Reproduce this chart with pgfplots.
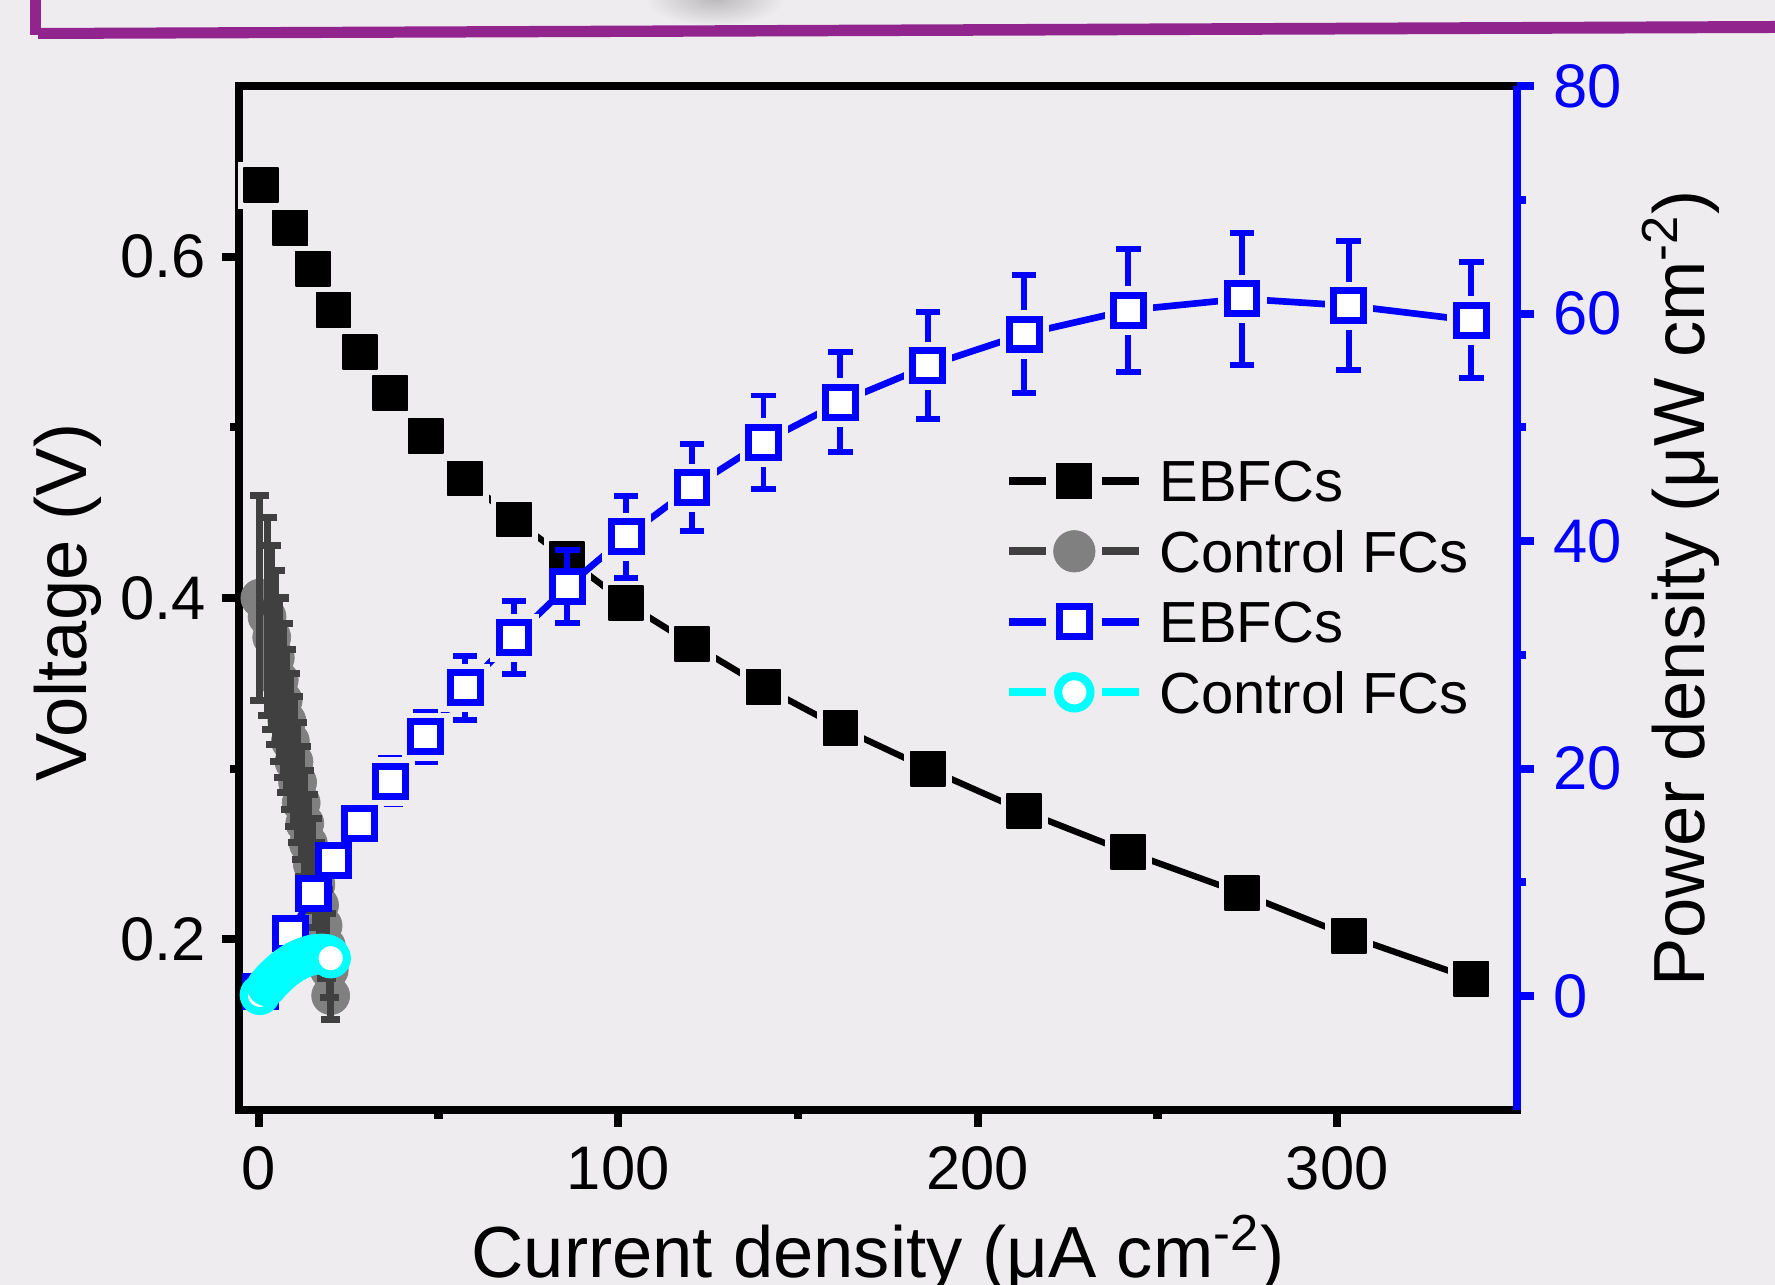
\documentclass[border=0pt]{standalone}
\usepackage{fontspec}
\setmainfont{Liberation Sans}
\usepackage{pgfplots}
\usepackage{pgfplotstable}
\pgfplotsset{compat=1.18}
\definecolor{bg}{RGB}{238,236,239}
\definecolor{frame}{RGB}{146,36,142}
\definecolor{dgray}{RGB}{64,64,64}
\definecolor{mgray}{RGB}{128,128,128}
\definecolor{cy}{RGB}{0,255,255}

\pgfplotstableread{
x V
0.6 0.642
8.8 0.617
15.1 0.593
20.8 0.569
28.1 0.544
36.6 0.520
46.4 0.495
57.4 0.470
71.0 0.446
85.8 0.423
102.2 0.397
120.5 0.373
140.4 0.348
161.8 0.324
186.1 0.300
212.9 0.275
241.9 0.251
273.5 0.227
303.2 0.202
337.3 0.177
}\ebfcV

\pgfplotstableread{
x P e
0.6 0.4 0.1
8.8 5.5 0.6
15.1 9.0 0.8
20.8 11.9 1.0
28.1 15.2 1.2
36.6 18.9 2.0
46.4 22.8 2.2
57.4 27.1 2.8
71.0 31.5 3.2
85.8 36.0 3.2
102.2 40.4 3.6
120.5 44.7 3.8
140.4 48.7 4.1
161.8 52.2 4.4
186.1 55.4 4.7
212.9 58.2 5.2
241.9 60.3 5.4
273.5 61.3 5.8
303.2 60.7 5.7
337.3 59.4 5.1
}\ebfcP

\pgfplotstableread{
x P
28.1 15.2
36.6 18.9
46.4 22.8
57.4 27.1
71.0 31.5
102.2 40.4
120.5 44.7
140.4 48.7
161.8 52.2
186.1 55.4
212.9 58.2
241.9 60.3
273.5 61.3
303.2 60.7
337.3 59.4
}\ebfcPhalo

\pgfplotstableread{
x V e
0.3 0.400 0.060
2.3 0.389 0.058
3.6 0.377 0.054
4.6 0.365 0.051
5.7 0.352 0.048
6.8 0.340 0.045
7.8 0.328 0.042
8.8 0.316 0.040
9.8 0.304 0.038
10.8 0.292 0.035
11.8 0.280 0.033
12.8 0.268 0.031
13.8 0.256 0.029
14.9 0.244 0.027
15.9 0.232 0.025
16.9 0.220 0.023
17.9 0.208 0.021
18.8 0.196 0.019
19.6 0.182 0.016
20.0 0.167 0.014
}\ctrlV

\pgfplotstableread{
x P
0.3 0.12
2.3 0.89
3.6 1.36
4.6 1.68
5.7 2.01
6.8 2.31
7.8 2.56
8.8 2.78
9.8 2.98
10.8 3.15
11.8 3.30
12.8 3.43
13.8 3.53
14.9 3.64
15.9 3.69
16.9 3.72
17.9 3.72
18.8 3.68
19.6 3.57
20.0 3.34
}\ctrlP

\pgfplotsset{
  geom/.style={at={(23.9mm,17.5mm)}, anchor=south west, scale only axis,
    width=127.8mm, height=102.4mm, xmin=-5.5, xmax=350,
    tick align=outside, major tick length=1.7mm, minor tick length=0.9mm,
    /pgf/number format/assume math mode=true,
    ticklabel style={font=\fontsize{17.5}{21}\selectfont},
    label style={font=\fontsize{20.6}{24}\selectfont}},
}

\begin{document}
\begin{tikzpicture}
\useasboundingbox (0,0) rectangle (177.5mm,128.5mm);
\clip (0,0) rectangle (177.5mm,128.5mm);
\fill[bg] (0,0) rectangle (177.5mm,128.5mm);
\shade[inner color=black!22!bg, outer color=bg] (71.5mm,128.7mm) ellipse (7mm and 2.8mm);
\fill[frame] (3.0mm,128.6mm) rectangle (4.1mm,125.0mm);
\fill[frame] (3.8mm,125.7mm) -- (177.6mm,126.4mm) -- (177.6mm,125.2mm) -- (3.8mm,124.6mm) -- cycle;

\begin{axis}[geom,
  ymin=0.1, ymax=0.7,
  axis line style={line width=2.3pt, black},
  xtick={0,100,200,300}, minor xtick={50,150,250},
  ytick={0.2,0.4,0.6}, minor ytick={0.3,0.5},
  xtick pos=bottom, ytick pos=left,
  tick style={line width=2.3pt, black},
  yticklabel style={xshift=-0.4mm, /pgf/number format/.cd, fixed, fixed zerofill, precision=1},
  xticklabel style={yshift=-0.7mm},
  xlabel={Current density (μA cm\textsuperscript{-2})},
  xlabel style={at={(axis description cs:0.5,-0.1631)}, anchor=base},
  ylabel={Voltage (V)},
  ylabel style={at={(axis description cs:-0.1338,0.4953)}, anchor=center},
]
\addplot[black, line width=1.8pt, mark=square*, mark size=6.6pt, mark options={draw=bg, fill=bg, line width=0.1pt}] table[x=x,y=V]{\ebfcV};
\addplot[only marks, mark=square*, mark size=4.85pt, mark options={draw=black, fill=black, line width=0.5pt, line join=round}] table[x=x,y=V]{\ebfcV};
\addplot[only marks, mark=*, mark size=5.4pt, mark options={draw=mgray, fill=mgray, line width=0.2pt}] table[x=x,y=V]{\ctrlV};
\end{axis}

\begin{axis}[geom, ymin=0.1, ymax=0.7, hide axis]
\addplot[dgray, line width=1.5pt, mark=none, error bars/.cd, y dir=both, y explicit,
  error bar style={dgray, line width=2pt},
  error mark options={rotate=90, dgray, line width=2pt, mark size=2.7pt}] table[x=x,y=V,y error=e]{\ctrlV};
\end{axis}

\begin{axis}[geom,
  ymin=-10, ymax=80,
  axis x line=none, axis y line*=right,
  y axis line style={blue, line width=2.3pt, -},
  ytick={0,20,40,60,80}, minor ytick={10,30,50,70},
  tick style={line width=2.3pt, blue},
  yticklabel style={blue, xshift=0.7mm},
  ylabel={Power density (μW cm\textsuperscript{-2})},
  ylabel style={at={(axis description cs:1.1283,0.5092)}, anchor=center, black},
  legend image code/.code={
    \draw[#1, mark=none, line width=2.3pt] (0mm,0mm) -- (3.7mm,0mm);
    \draw[#1, mark=none, line width=2.3pt] (9.3mm,0mm) -- (13mm,0mm);
    \draw[#1, only marks] plot coordinates {(6.5mm,0mm)};
  },
  legend cell align=left,
  legend style={at={(axis description cs:0.5996,0.6489)}, anchor=north west,
    draw=none, fill=none, inner sep=0pt, outer sep=0pt, row sep=0pt,
    font=\fontsize{16.5}{19.8}\selectfont,
    nodes={inner sep=0pt, text height=5.6mm, text depth=1.45mm},
    /tikz/every odd column/.append style={column sep=1.6mm}},
]
\addlegendimage{black, mark=square*, mark size=4.85pt, mark options={draw=black, fill=black, line width=0.5pt}}
\addlegendentry{EBFCs}
\addlegendimage{dgray, mark=*, mark size=5.9pt, mark options={draw=mgray, fill=mgray, line width=0.2pt}}
\addlegendentry{Control FCs}
\addlegendimage{blue, mark=square*, mark size=4.25pt, mark options={draw=blue, fill=white, line width=2pt}}
\addlegendentry{EBFCs}
\addlegendimage{cy, mark=*, mark size=4.6pt, mark options={draw=cy, fill=white, line width=2.3pt}}
\addlegendentry{Control FCs}

\addplot[blue, line width=1.9pt, mark=none, forget plot] table[x=x,y=P]{\ebfcP};
\addplot[only marks, mark=square*, mark size=6.75pt, mark options={draw=bg, fill=bg, line width=0.1pt}, forget plot] table[x=x,y=P]{\ebfcPhalo};
\addplot[blue, forget plot, line width=1.7pt, only marks, mark=square*, mark size=4.25pt, mark options={draw=blue, fill=white, line width=2pt},
  error bars/.cd, y dir=both, y explicit,
  error bar style={blue, line width=1.7pt},
  error mark options={rotate=90, blue, line width=1.7pt, mark size=3.5pt}] table[x=x,y=P,y error=e]{\ebfcP};
\addplot[cy, line width=1.5pt, mark=*, mark size=4.6pt, mark options={draw=cy, fill=white, line width=2.3pt}, forget plot] table[x=x,y=P]{\ctrlP};
\end{axis}
\end{tikzpicture}
\end{document}
